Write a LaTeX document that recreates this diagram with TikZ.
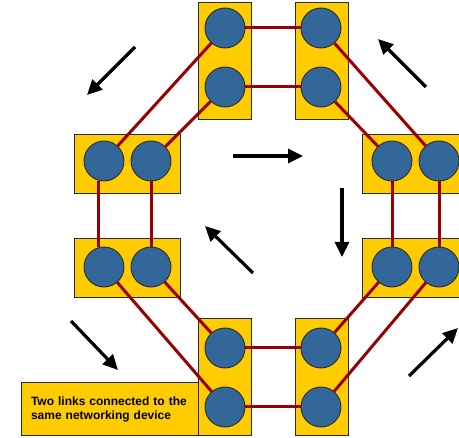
\documentclass[tikz,border=0pt]{standalone}
\usepackage{fontspec}
\setmainfont{Liberation Sans}
\usetikzlibrary{arrows.meta}
\definecolor{devyellow}{HTML}{FFCC00}
\definecolor{portblue}{HTML}{336699}
\definecolor{linkred}{HTML}{990000}
\definecolor{edge}{HTML}{2B2B2B}
\begin{document}
\begin{tikzpicture}[x=1pt,y=-1pt,
  dev/.style={draw=edge,fill=devyellow,line width=1pt,inner sep=0pt},
  vdev/.style={dev,minimum width=53pt,minimum height=117pt},
  hdev/.style={dev,minimum width=106pt,minimum height=59pt},
  port/.style={circle,draw=edge,fill=portblue,line width=0.9pt,minimum size=40pt,inner sep=0pt},
  link/.style={linkred,line width=3pt},
  flow/.style={-{Triangle[length=15pt,width=14pt]},line width=3.2pt,black},
  note/.style={dev,font=\bfseries\fontsize{12}{14}\selectfont,align=left,
    text width=157pt,inner xsep=10pt,minimum height=53pt}]
\useasboundingbox (0,0) rectangle (459,438);
\clip (0,0) rectangle (459,438);

% ---- devices
\node[vdev] (tl) at (224.5,61) {};
\node[vdev] (tr) at (321.5,61) {};
\node[hdev] (la) at (127,164.5) {};
\node[hdev] (lb) at (127,268.5) {};
\node[hdev] (ra) at (415,164.5) {};
\node[hdev] (rb) at (415,268.5) {};
\node[vdev] (bl) at (224.5,377.5) {};
\node[vdev] (br) at (321.5,377.5) {};
\node[note] (txt) at (109.5,409.5) {Two links connected to the\\same networking device};

% ---- ports
\node[port] (tl1) at (225,28) {};
\node[port] (tl2) at (225,87) {};
\node[port] (tr1) at (321,28) {};
\node[port] (tr2) at (321,87) {};
\node[port] (la1) at (104,161) {};
\node[port] (la2) at (151,161) {};
\node[port] (lb1) at (104,267) {};
\node[port] (lb2) at (151,267) {};
\node[port] (ra1) at (392,161) {};
\node[port] (ra2) at (439,161) {};
\node[port] (rb1) at (392,267) {};
\node[port] (rb2) at (439,267) {};
\node[port] (bl1) at (225,348) {};
\node[port] (bl2) at (225,407) {};
\node[port] (br1) at (321,348) {};
\node[port] (br2) at (321,407) {};

% ---- links
\draw[link] (tl1) -- (tr1);
\draw[link] (tl2) -- (tr2);
\draw[link] (tl1) -- (la1);
\draw[link] (tl2) -- (la2);
\draw[link] (la1.255) -- (lb1.105);
\draw[link] (la2) -- (lb2);
\draw[link] (tr1) -- (ra2);
\draw[link] (tr2) -- (ra1);
\draw[link] (ra1) -- (rb1);
\draw[link] (ra2) -- (rb2);
\draw[link] (lb1) -- (bl2);
\draw[link] (lb2) -- (bl1);
\draw[link] (bl1) -- (br1);
\draw[link] (bl2) -- (br2);
\draw[link] (br1) -- (rb1);
\draw[link] (br2) -- (rb2);

% ---- traffic direction
\draw[flow] (135,47) -- (87,95);
\draw[flow] (426,87) -- (378,39);
\draw[flow] (233,156) -- (303,156);
\draw[flow] (342,188) -- (342,257);
\draw[flow] (253,273) -- (205,226);
\draw[flow] (71,321) -- (118,370);
\draw[flow] (409,376) -- (458,328);
\end{tikzpicture}
\end{document}
